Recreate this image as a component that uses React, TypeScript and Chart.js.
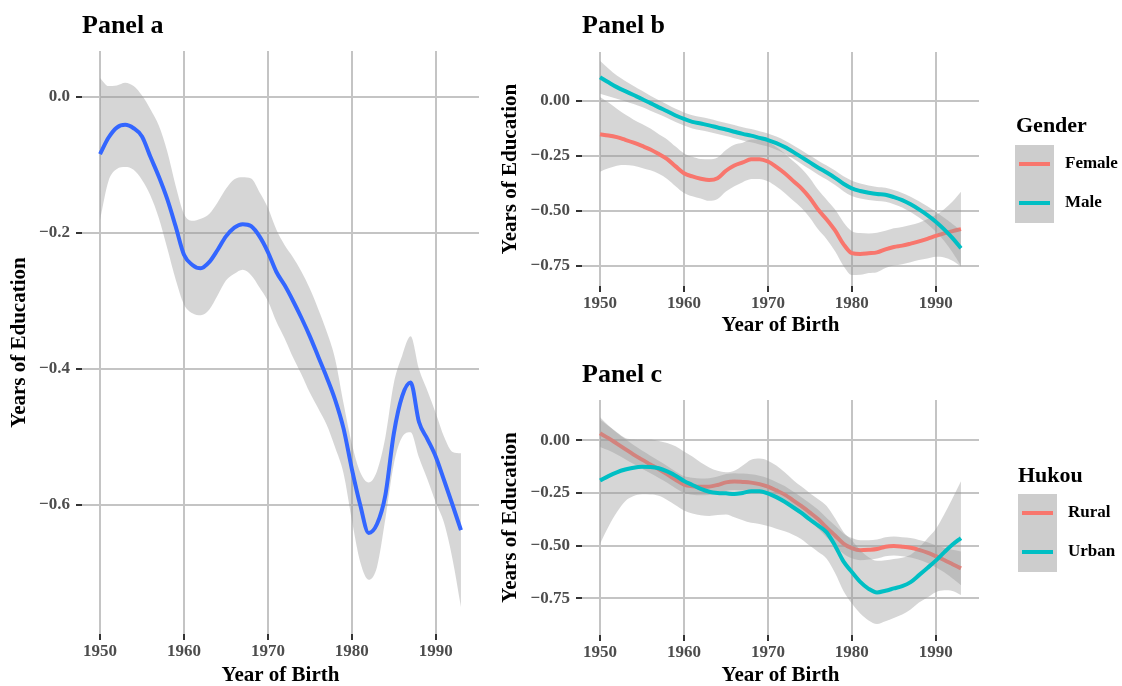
import React, { useEffect, useRef } from "react";
import { Chart, registerables } from "chart.js";
Chart.register(...registerables);

// ---------- data ----------
const years = [
  1950, 1951, 1952, 1953, 1954, 1955, 1956, 1957, 1958, 1959,
  1960, 1961, 1962, 1963, 1964, 1965, 1966, 1967, 1968, 1969,
  1970, 1971, 1972, 1973, 1974, 1975, 1976, 1977, 1978, 1979,
  1980, 1981, 1982, 1983, 1984, 1985, 1986, 1987, 1988, 1989,
  1990, 1991, 1992, 1993,
];
const xTicks = [1950, 1960, 1970, 1980, 1990];
const yTicksA = [-0.6, -0.4, -0.2, 0.0];
const yTicksBC = [-0.75, -0.5, -0.25, 0.0];

// Panel a: overall smooth
const fitA = [
  -0.084, -0.060, -0.045, -0.041, -0.046, -0.058, -0.088, -0.117, -0.150, -0.190,
  -0.232, -0.247, -0.252, -0.243, -0.225, -0.205, -0.192, -0.187, -0.190, -0.205,
  -0.228, -0.257, -0.277, -0.300, -0.325, -0.352, -0.382, -0.412, -0.445, -0.487,
  -0.547, -0.600, -0.641, -0.628, -0.585, -0.495, -0.440, -0.420, -0.478, -0.503,
  -0.529, -0.564, -0.600, -0.637,
];
const upperA = [
  0.028, 0.016, 0.017, 0.021, 0.016, 0.002, -0.018, -0.042, -0.080, -0.130,
  -0.172, -0.182, -0.179, -0.172, -0.155, -0.135, -0.121, -0.118, -0.120, -0.140,
  -0.163, -0.195, -0.218, -0.236, -0.257, -0.282, -0.312, -0.345, -0.385, -0.450,
  -0.510, -0.552, -0.567, -0.550, -0.500, -0.421, -0.380, -0.352, -0.400, -0.432,
  -0.465, -0.500, -0.522, -0.524,
];
const lowerA = [
  -0.181, -0.124, -0.106, -0.103, -0.107, -0.122, -0.145, -0.178, -0.222, -0.268,
  -0.305, -0.318, -0.321, -0.313, -0.292, -0.270, -0.260, -0.254, -0.262, -0.280,
  -0.300, -0.330, -0.355, -0.383, -0.408, -0.435, -0.458, -0.482, -0.515, -0.553,
  -0.622, -0.684, -0.710, -0.691, -0.620, -0.540, -0.500, -0.493, -0.530, -0.562,
  -0.596, -0.627, -0.680, -0.750,
];

// Panel b: by gender (fit and half-width of band)
const female = [
  -0.152, -0.157, -0.165, -0.177, -0.190, -0.205, -0.221, -0.242, -0.265, -0.298,
  -0.329, -0.344, -0.354, -0.360, -0.352, -0.318, -0.294, -0.280, -0.266, -0.265,
  -0.276, -0.300, -0.329, -0.364, -0.398, -0.442, -0.496, -0.540, -0.590, -0.652,
  -0.693, -0.697, -0.694, -0.690, -0.676, -0.665, -0.659, -0.650, -0.640, -0.628,
  -0.615, -0.603, -0.593, -0.584,
];
const femaleSe = [
  0.17, 0.15, 0.13, 0.115, 0.105, 0.10, 0.095, 0.09, 0.09, 0.09,
  0.09, 0.09, 0.09, 0.095, 0.095, 0.095, 0.095, 0.09, 0.09, 0.09,
  0.09, 0.09, 0.09, 0.09, 0.09, 0.09, 0.09, 0.09, 0.095, 0.10,
  0.10, 0.095, 0.09, 0.09, 0.085, 0.085, 0.085, 0.085, 0.085, 0.09,
  0.095, 0.11, 0.135, 0.17,
];
const male = [
  0.108, 0.085, 0.063, 0.045, 0.027, 0.009, -0.010, -0.029, -0.047, -0.066,
  -0.082, -0.095, -0.103, -0.111, -0.121, -0.130, -0.140, -0.150, -0.158, -0.168,
  -0.178, -0.192, -0.210, -0.232, -0.256, -0.280, -0.304, -0.326, -0.350, -0.377,
  -0.398, -0.410, -0.418, -0.424, -0.427, -0.438, -0.452, -0.471, -0.494, -0.520,
  -0.550, -0.585, -0.625, -0.671,
];
const maleSe = [
  0.075, 0.063, 0.053, 0.046, 0.041, 0.037, 0.034, 0.032, 0.031, 0.030,
  0.030, 0.030, 0.030, 0.030, 0.030, 0.030, 0.030, 0.030, 0.030, 0.030,
  0.030, 0.030, 0.030, 0.030, 0.031, 0.031, 0.032, 0.032, 0.033, 0.034,
  0.035, 0.034, 0.033, 0.032, 0.032, 0.032, 0.033, 0.035, 0.037, 0.040,
  0.045, 0.053, 0.065, 0.080,
];

// Panel c: by hukou
const rural = [
  0.033, 0.010, -0.016, -0.042, -0.068, -0.092, -0.115, -0.138, -0.162, -0.188,
  -0.210, -0.218, -0.221, -0.220, -0.212, -0.200, -0.196, -0.198, -0.201, -0.208,
  -0.220, -0.238, -0.258, -0.285, -0.313, -0.343, -0.375, -0.415, -0.452, -0.490,
  -0.512, -0.522, -0.520, -0.516, -0.505, -0.502, -0.505, -0.510, -0.520, -0.533,
  -0.550, -0.568, -0.588, -0.608,
];
const ruralSe = [
  0.065, 0.058, 0.052, 0.048, 0.045, 0.043, 0.042, 0.041, 0.040, 0.040,
  0.040, 0.040, 0.040, 0.040, 0.040, 0.040, 0.040, 0.040, 0.040, 0.040,
  0.040, 0.040, 0.041, 0.042, 0.043, 0.044, 0.045, 0.046, 0.047, 0.048,
  0.048, 0.047, 0.046, 0.045, 0.045, 0.045, 0.045, 0.046, 0.047, 0.049,
  0.052, 0.058, 0.068, 0.080,
];
const urban = [
  -0.191, -0.170, -0.152, -0.139, -0.130, -0.126, -0.127, -0.133, -0.148, -0.168,
  -0.193, -0.212, -0.231, -0.244, -0.250, -0.252, -0.255, -0.250, -0.242, -0.242,
  -0.252, -0.270, -0.292, -0.318, -0.345, -0.376, -0.405, -0.437, -0.500, -0.575,
  -0.625, -0.672, -0.705, -0.722, -0.714, -0.703, -0.692, -0.673, -0.640, -0.606,
  -0.571, -0.532, -0.495, -0.464,
];
const urbanSe = [
  0.30, 0.24, 0.19, 0.15, 0.135, 0.13, 0.13, 0.13, 0.135, 0.14,
  0.14, 0.135, 0.125, 0.115, 0.105, 0.10, 0.11, 0.13, 0.15, 0.155,
  0.155, 0.15, 0.14, 0.13, 0.125, 0.125, 0.125, 0.125, 0.13, 0.14,
  0.15, 0.15, 0.15, 0.15, 0.145, 0.14, 0.135, 0.13, 0.13, 0.14,
  0.15, 0.18, 0.22, 0.27,
];

// ---------- styles ----------
const FONT = "'Liberation Serif', 'Times New Roman', 'DejaVu Serif', serif";
const RED = "#F8766D";
const TEAL = "#00BFC4";
const BLUE = "#3366FF";
const BAND = "rgba(153,153,153,0.4)";
const GRID = "#c4c4c4";
const TICK_TEXT = "#4d4d4d";

const pts = (ys: number[]) => years.map((x, i) => ({ x, y: ys[i] }));

function ribbonSets(upper: number[], lower: number[], order: number) {
  const base = {
    pointRadius: 0,
    pointHoverRadius: 0,
    borderWidth: 0,
    borderColor: "rgba(0,0,0,0)",
    cubicInterpolationMode: "monotone" as const,
    order,
  };
  return [
    { ...base, data: pts(upper), fill: "+1", backgroundColor: BAND },
    { ...base, data: pts(lower), fill: false, backgroundColor: "rgba(0,0,0,0)" },
  ];
}
function lineSet(vals: number[], color: string, order: number) {
  return {
    data: pts(vals),
    borderColor: color,
    borderWidth: 4,
    pointRadius: 0,
    pointHoverRadius: 0,
    fill: false,
    cubicInterpolationMode: "monotone" as const,
    order,
  };
}
const plus = (a: number[], b: number[]) => a.map((v, i) => v + b[i]);
const minus = (a: number[], b: number[]) => a.map((v, i) => v - b[i]);

const fmt = (v: number, dec: number) => {
  const s = Math.abs(v).toFixed(dec);
  return v < -1e-9 ? "\u2212" + s : s;
};

type LegendSpec = {
  title: string;
  titleX: number;
  titleBase: number;
  box: [number, number, number, number];
  lineX: [number, number];
  labelX: number;
  items: { label: string; color: string; y: number }[];
};

type Spec = {
  w: number;
  h: number;
  area: { l: number; t: number; r: number; b: number };
  yMin: number;
  yMax: number;
  yTicks: number[];
  dec: number;
  yTitlePad: number;
  title: string;
  titleBase: number;
  datasets: any[];
  legend?: LegendSpec;
};

function overlay(spec: Spec) {
  return {
    id: "overlay",
    afterDraw(chart: any) {
      const ctx = chart.ctx as CanvasRenderingContext2D;
      ctx.save();
      ctx.fillStyle = "#000";
      ctx.textAlign = "left";
      ctx.textBaseline = "alphabetic";
      ctx.font = `bold 26px ${FONT}`;
      ctx.fillText(spec.title, chart.chartArea.left, spec.titleBase);
      const lg = spec.legend;
      if (lg) {
        ctx.font = `bold 22px ${FONT}`;
        ctx.fillText(lg.title, lg.titleX, lg.titleBase);
        ctx.fillStyle = "#cdcdcd";
        ctx.fillRect(lg.box[0], lg.box[1], lg.box[2], lg.box[3]);
        ctx.lineWidth = 4;
        ctx.lineCap = "butt";
        ctx.font = `bold 17px ${FONT}`;
        ctx.textBaseline = "middle";
        for (const it of lg.items) {
          ctx.strokeStyle = it.color;
          ctx.beginPath();
          ctx.moveTo(lg.lineX[0], it.y);
          ctx.lineTo(lg.lineX[1], it.y);
          ctx.stroke();
          ctx.fillStyle = "#000";
          ctx.fillText(it.label, lg.labelX, it.y);
        }
      }
      ctx.restore();
    },
  };
}

function makeChart(canvas: HTMLCanvasElement, spec: Spec) {
  const tickFont = { family: FONT, size: 17, weight: "bold" as const };
  const titleFont = { family: FONT, size: 21, weight: "bold" as const, lineHeight: 1 };
  return new Chart(canvas, {
    type: "line",
    data: { datasets: spec.datasets },
    options: {
      animation: false,
      responsive: false,
      devicePixelRatio: 1,
      events: [],
      layout: {
        padding: { left: 0, top: spec.area.t, right: spec.w - spec.area.r, bottom: 0 },
      },
      plugins: {
        legend: { display: false },
        tooltip: { enabled: false },
        title: { display: false },
        filler: { drawTime: "beforeDatasetDraw" },
      } as any,
      scales: {
        x: {
          type: "linear",
          min: 1947.85,
          max: 1995.15,
          afterBuildTicks: (s: any) => {
            s.ticks = xTicks.map((v) => ({ value: v }));
          },
          afterFit: (s: any) => {
            s.height = spec.h - spec.area.b;
          },
          grid: {
            color: GRID,
            lineWidth: 2,
            drawTicks: true,
            tickLength: 6,
            tickColor: "#333333",
            tickWidth: 2,
          } as any,
          border: { display: false },
          ticks: {
            font: tickFont,
            color: TICK_TEXT,
            padding: 1,
            maxRotation: 0,
            autoSkip: false,
            callback: (v: any) => String(v),
          },
          title: {
            display: true,
            text: "Year of Birth",
            font: titleFont,
            color: "#000",
            padding: 0,
          },
        },
        y: {
          type: "linear",
          min: spec.yMin,
          max: spec.yMax,
          afterBuildTicks: (s: any) => {
            s.ticks = spec.yTicks.map((v) => ({ value: v }));
          },
          afterFit: (s: any) => {
            s.width = spec.area.l;
          },
          grid: {
            color: GRID,
            lineWidth: 2,
            drawTicks: true,
            tickLength: 6,
            tickColor: "#333333",
            tickWidth: 2,
          } as any,
          border: { display: false },
          ticks: {
            font: tickFont,
            color: TICK_TEXT,
            padding: 6,
            autoSkip: false,
            callback: (v: any) => fmt(Number(v), spec.dec),
          },
          title: {
            display: true,
            text: "Years of Education",
            font: titleFont,
            color: "#000",
            padding: { top: spec.yTitlePad, bottom: 0 },
          },
        },
      },
    },
    plugins: [overlay(spec)],
  } as any);
}

const specA: Spec = {
  w: 490,
  h: 686,
  area: { l: 82, t: 51, r: 479, b: 634 },
  yMin: -0.7897,
  yMax: 0.0676,
  yTicks: yTicksA,
  dec: 1,
  yTitlePad: 9.5,
  title: "Panel a",
  titleBase: 33,
  datasets: [...ribbonSets(upperA, lowerA, 2), lineSet(fitA, BLUE, 1)],
};

const specB: Spec = {
  w: 632,
  h: 336,
  area: { l: 92, t: 52, r: 489, b: 286 },
  yMin: -0.843,
  yMax: 0.2231,
  yTicks: yTicksBC,
  dec: 2,
  yTitlePad: 10.5,
  title: "Panel b",
  titleBase: 33,
  datasets: [
    ...ribbonSets(plus(female, femaleSe), minus(female, femaleSe), 4),
    lineSet(female, RED, 3),
    ...ribbonSets(plus(male, maleSe), minus(male, maleSe), 2),
    lineSet(male, TEAL, 1),
  ],
  legend: {
    title: "Gender",
    titleX: 526,
    titleBase: 132,
    box: [525, 145, 39, 78],
    lineX: [529, 560],
    labelX: 575,
    items: [
      { label: "Female", color: RED, y: 164 },
      { label: "Male", color: TEAL, y: 203 },
    ],
  },
};

const specC: Spec = {
  w: 632,
  h: 343,
  area: { l: 92, t: 57, r: 489, b: 292 },
  yMin: -0.924,
  yMax: 0.191,
  yTicks: yTicksBC,
  dec: 2,
  yTitlePad: 10.5,
  title: "Panel c",
  titleBase: 39,
  datasets: [
    ...ribbonSets(plus(rural, ruralSe), minus(rural, ruralSe), 4),
    lineSet(rural, RED, 3),
    ...ribbonSets(plus(urban, urbanSe), minus(urban, urbanSe), 2),
    lineSet(urban, TEAL, 1),
  ],
  legend: {
    title: "Hukou",
    titleX: 528,
    titleBase: 139,
    box: [528, 151, 39, 78],
    lineX: [532, 563],
    labelX: 578,
    items: [
      { label: "Rural", color: RED, y: 170 },
      { label: "Urban", color: TEAL, y: 209 },
    ],
  },
};

export default function App() {
  const refA = useRef<HTMLCanvasElement>(null);
  const refB = useRef<HTMLCanvasElement>(null);
  const refC = useRef<HTMLCanvasElement>(null);

  useEffect(() => {
    const charts = [
      makeChart(refA.current!, specA),
      makeChart(refB.current!, specB),
      makeChart(refC.current!, specC),
    ];
    return () => charts.forEach((c) => c.destroy());
  }, []);

  return (
    <div
      style={{
        position: "fixed",
        left: 0,
        top: 0,
        width: 1122,
        height: 686,
        background: "#ffffff",
        overflow: "hidden",
      }}
    >
      <canvas
        ref={refA}
        width={490}
        height={686}
        style={{ position: "absolute", left: 0, top: 0, width: 490, height: 686 }}
      />
      <canvas
        ref={refB}
        width={632}
        height={336}
        style={{ position: "absolute", left: 490, top: 0, width: 632, height: 336 }}
      />
      <canvas
        ref={refC}
        width={632}
        height={343}
        style={{ position: "absolute", left: 490, top: 343, width: 632, height: 343 }}
      />
    </div>
  );
}
